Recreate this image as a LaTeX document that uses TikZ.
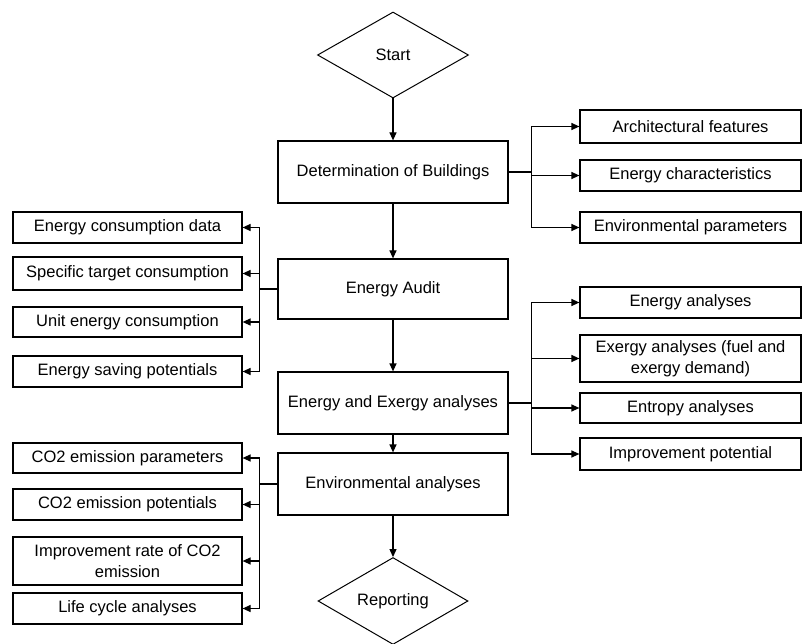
\documentclass[tikz,border=0pt]{standalone}
\usepackage{fontspec}
\setmainfont{Liberation Sans}
\usepackage{tikz}
\usetikzlibrary{arrows.meta,shapes.geometric,calc}

\begin{document}
\begin{tikzpicture}[x=1pt,y=-1pt,
    font=\fontsize{16.5}{20.5}\selectfont,
    box/.style={draw, line width=1.2pt, minimum width=230pt, minimum height=62pt, inner sep=2pt, align=center},
    sidebox/.style={draw, line width=1.2pt, minimum width=221pt, minimum height=31pt, inner sep=2pt, align=center},
    leftbox/.style={sidebox, minimum width=229pt},
    decision/.style={diamond, draw, line width=1pt, minimum width=151pt, minimum height=86pt, inner sep=0pt},
    arr/.style={-{Triangle[length=8pt,width=7pt]}, line width=1.2pt}]

    \useasboundingbox (0,0) rectangle (803,644);

    % main column
    \node[decision] (start) at (393,55) {Start};
    \node[box] (det) at (393,172) {Determination of Buildings};
    \node[box, minimum height=60pt] (audit) at (393,289) {Energy Audit};
    \node[box] (exan) at (393,403) {Energy and Exergy analyses};
    \node[box] (env) at (393,484) {Environmental analyses};
    \node[decision, minimum width=150pt] (report) at (393,601) {Reporting};

    % right, buildings
    \node[sidebox, minimum height=33pt] (arch) at (690.5,126.5) {Architectural features};
    \node[sidebox] (char) at (690.5,175.5) {Energy characteristics};
    \node[sidebox] (envpar) at (690.5,227.5) {Environmental parameters};

    % left, audit
    \node[leftbox] (ecd) at (127.5,227.5) {Energy consumption data};
    \node[leftbox, minimum height=33pt] (stc) at (127.5,273.5) {Specific target consumption};
    \node[leftbox, minimum height=30pt] (uec) at (127.5,322) {Unit energy consumption};
    \node[leftbox] (esp) at (127.5,371.5) {Energy saving potentials};

    % right, analyses
    \node[sidebox] (ena) at (690.5,302.5) {Energy analyses};
    \node[sidebox, minimum height=47pt] (exa) at (690.5,358.5) {Exergy analyses (fuel and\\exergy demand)};
    \node[sidebox, minimum height=30pt] (ent) at (690.5,408) {Entropy analyses};
    \node[sidebox, minimum height=32pt] (imp) at (690.5,454) {Improvement potential};

    % left, environment
    \node[leftbox, minimum height=30pt] (cop) at (127.5,458) {CO2 emission parameters};
    \node[leftbox] (cpot) at (127.5,504.5) {CO2 emission potentials};
    \node[leftbox, minimum height=48pt] (irate) at (127.5,561) {Improvement rate of CO2\\emission};
    \node[leftbox] (lca) at (127.5,608.5) {Life cycle analyses};

    \draw[arr] (start.south) -- (det.north);
    \draw[arr] (det.south) -- (audit.north);
    \draw[arr] (audit.south) -- (exan.north);
    \draw[arr] (exan.south) -- (env.north);
    \draw[arr] (env.south) -- (report.north);

    \draw[arr] (det.east) -- ([xshift=23pt]det.east) |- (arch.west);
    \draw[arr] (det.east) -- ([xshift=23pt]det.east) |- (char.west);
    \draw[arr] (det.east) -- ([xshift=23pt]det.east) |- (envpar.west);

    \draw[arr] (audit.west) -- ([xshift=-18pt]audit.west) |- (ecd.east);
    \draw[arr] (audit.west) -- ([xshift=-18pt]audit.west) |- (stc.east);
    \draw[arr] (audit.west) -- ([xshift=-18pt]audit.west) |- (uec.east);
    \draw[arr] (audit.west) -- ([xshift=-18pt]audit.west) |- (esp.east);

    \draw[arr] (exan.east) -- ([xshift=23pt]exan.east) |- (ena.west);
    \draw[arr] (exan.east) -- ([xshift=23pt]exan.east) |- (exa.west);
    \draw[arr] (exan.east) -- ([xshift=23pt]exan.east) |- (ent.west);
    \draw[arr] (exan.east) -- ([xshift=23pt]exan.east) |- (imp.west);

    \draw[arr] (env.west) -- ([xshift=-18pt]env.west) |- (cop.east);
    \draw[arr] (env.west) -- ([xshift=-18pt]env.west) |- (cpot.east);
    \draw[arr] (env.west) -- ([xshift=-18pt]env.west) |- (irate.east);
    \draw[arr] (env.west) -- ([xshift=-18pt]env.west) |- (lca.east);
    \end{tikzpicture}
\end{document}
